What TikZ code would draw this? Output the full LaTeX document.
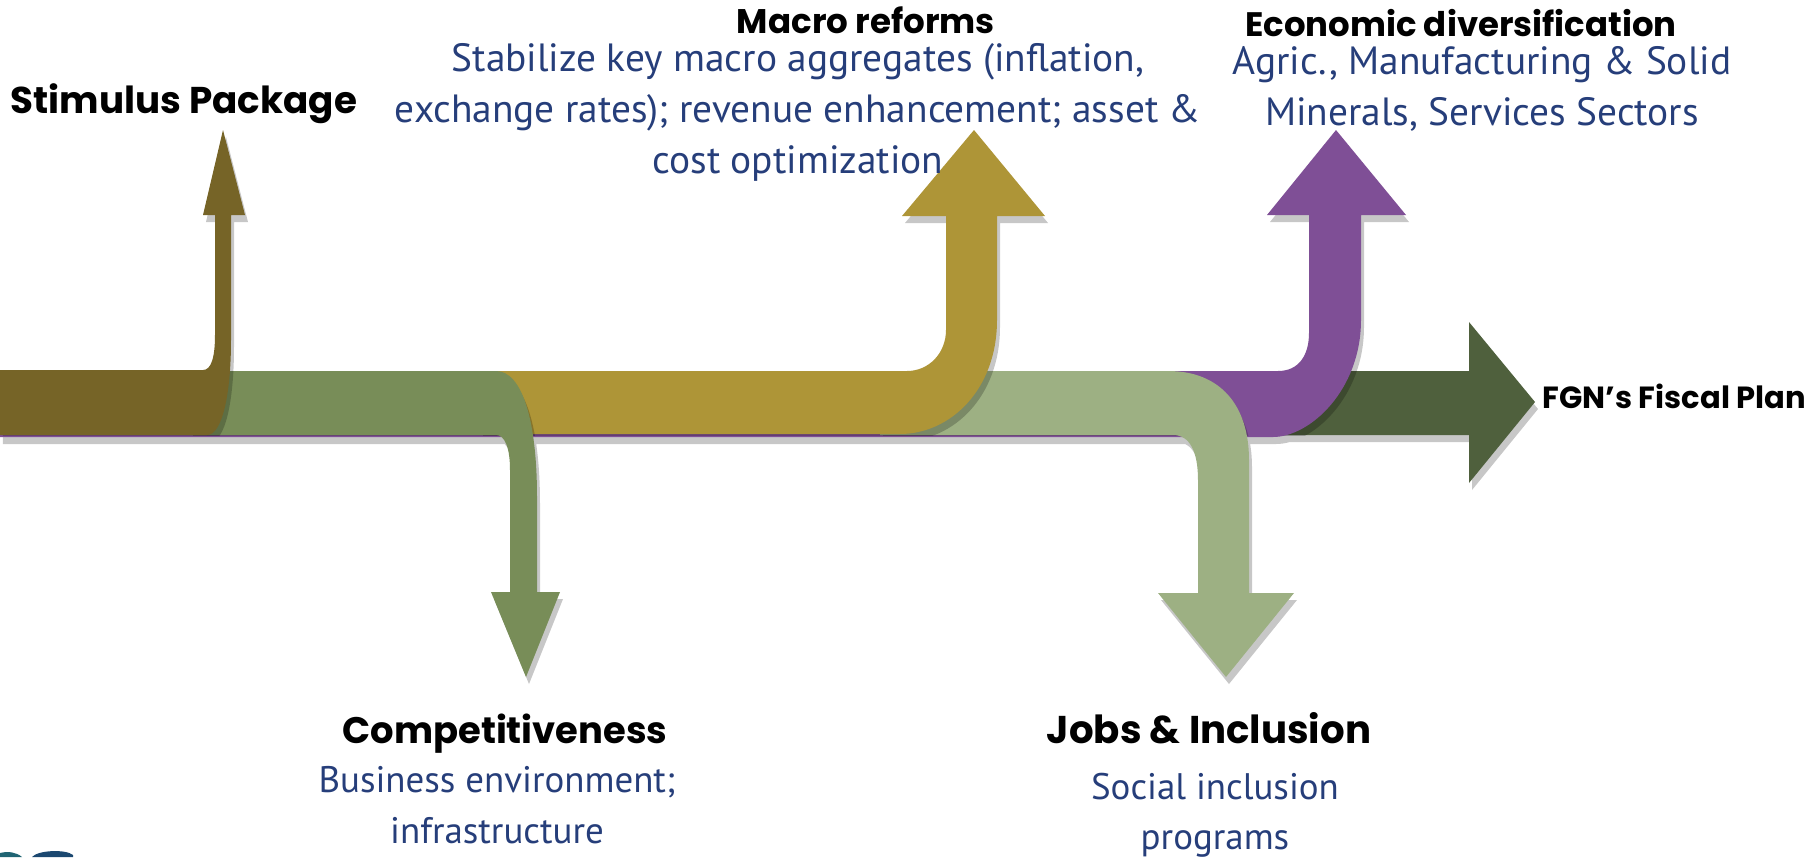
\documentclass[tikz,border=0pt]{standalone}
\usepackage{fontspec}
\setsansfont{Poppins}
\newfontfamily\blurbfont{PT Sans}

\definecolor{stimbrown}{RGB}{118,100,39}
\definecolor{compgreen}{RGB}{120,141,88}
\definecolor{macrogold}{RGB}{174,149,55}
\definecolor{jobsgreen}{RGB}{157,176,131}
\definecolor{divpurple}{RGB}{127,79,150}
\definecolor{plangreen}{RGB}{79,96,61}
\definecolor{textblue}{RGB}{38,62,122}
\definecolor{logoteal}{RGB}{31,100,115}
\definecolor{logoblue}{RGB}{27,72,112}

% outlines of the bands, in pixels (y runs downwards)
\newcommand{\planpath}{(0,371) -- (1469,371) -- (1469,322) -- (1535,402) -- (1469,483) -- (1469,435) -- (0,435) -- cycle}
\newcommand{\divpath}{(0,371) -- (1278,371) .. controls (1299,371) and (1309,355) .. (1309,333) -- (1309,215) -- (1267,215) -- (1336,130) -- (1406,215) -- (1361,215) -- (1361,320) .. controls (1361,390) and (1310,437) .. (1273,437) -- (0,437) -- cycle}
\newcommand{\jobspath}{(880,371) -- (1168,371) .. controls (1220,371) and (1249,405) .. (1249,460) -- (1249,593) -- (1294,593) -- (1226,677) -- (1158,593) -- (1198,593) -- (1198,480) .. controls (1198,452) and (1190,435) .. (1173,435) -- (880,435) -- cycle}
\newcommand{\macropath}{(480,371) -- (907,371) .. controls (929,371) and (946,353) .. (946,330) -- (946,216) -- (902,216) -- (974,130) -- (1045,216) -- (997,216) -- (997,320) .. controls (997,390) and (950,434) .. (900,434) -- (480,434) -- cycle}
\newcommand{\comppath}{(190,371) -- (496,371) .. controls (522,371) and (537,420) .. (537,497) -- (537,592) -- (560,592) -- (526,677) -- (491,592) -- (510,592) -- (510,470) .. controls (510,448) and (505,435) .. (496,435) -- (190,435) -- cycle}
\newcommand{\stimpath}{(0,370) -- (203,370) .. controls (211,370) and (215,358) .. (215,335) -- (215,215) -- (203,215) -- (223,130) -- (245,215) -- (231,215) -- (231,340) .. controls (231,395) and (222,435) .. (207,435) -- (0,435) -- cycle}

\tikzset{
	arrowshadow/.style={fill=black, opacity=0.22},
	heading/.style={inner sep=0pt, font={\sffamily\bfseries\fontsize{#1}{#1}\selectfont}},
	blurb/.style={inner sep=0pt, align=center, text=textblue, font={\blurbfont\fontsize{#1}{14.5}\selectfont}},
}

\begin{document}
\begin{tikzpicture}[x=0.01cm, y=-0.01cm]
	\useasboundingbox (0,0) rectangle (1814,857);
	
	\fill[arrowshadow, shift={(3,7)}] \planpath \divpath \jobspath \macropath \comppath \stimpath;
	\fill[plangreen] \planpath;
	
	\foreach \shp/\col in {\divpath/divpurple, \jobspath/jobsgreen, \macropath/macrogold, \comppath/compgreen, \stimpath/stimbrown}{
		\begin{scope}
			\clip (0,371) rectangle (1814,435);
			\fill[arrowshadow, shift={(3,7)}] \shp;
		\end{scope}
		\fill[\col] \shp;
	}
	
	\node[heading=10.6, anchor=base] (stim) at (184,113) {Stimulus Package};
	
	\node[heading=9.7, anchor=base] (macro) at (866,33) {Macro reforms};
	\node[blurb=11.2, anchor=north] (macrotxt) at (798,43) {Stabilize key macro aggregates (inflation,\\ exchange rates); revenue enhancement; asset \&\\ cost optimization};
	
	\node[heading=9.65, anchor=base] (div) at (1461,36) {Economic diversification};
	\node[blurb=11.2, anchor=north] (divtxt) at (1482,46) {Agric., Manufacturing \& Solid\\ Minerals, Services Sectors};
	
	\node[heading=8.7, anchor=base west] (plan) at (1542,408) {FGN’s Fiscal Plan};
	
	\node[heading=10.5, anchor=base] (comp) at (505,743) {Competitiveness};
	\node[blurb=10.5, anchor=north] (comptxt) at (497,766) {Business environment;\\ infrastructure};
	
	\node[heading=11, anchor=base] (jobs) at (1209,743) {Jobs \& Inclusion};
	\node[blurb=10.5, anchor=north] (jobstxt) at (1215,772) {Social inclusion\\ programs};
	
	% logo peeking in at the corner
	\fill[logoteal] (0,857) -- (0,853) .. controls (8,851) and (16,852) .. (22,857) -- cycle;
	\fill[logoblue] (32,857) .. controls (38,850) and (66,849) .. (73,855) -- (73,857) -- cycle;
\end{tikzpicture}
\end{document}
